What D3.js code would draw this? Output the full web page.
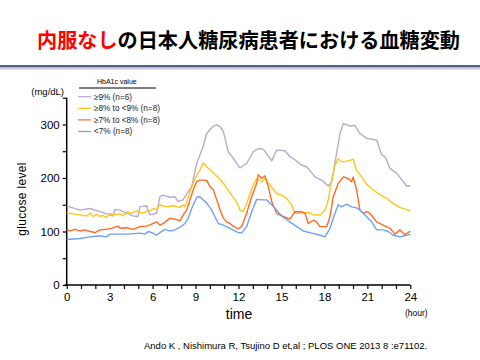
<!DOCTYPE html>
<html><head><meta charset="utf-8">
<script src="https://cdn.jsdelivr.net/npm/d3@7/dist/d3.min.js"></script>
<style>
html,body{margin:0;padding:0;background:#fff;}
svg{display:block;font-family:"Liberation Sans",Arial,sans-serif;}
</style></head>
<body>
<svg id="chart" width="480" height="360"></svg>
<script>
// ---- data (hour, mg/dL) ----
const seriesNames = ["≥9% (n=6)", "≥8% to <9% (n=8)", "≥7% to <8% (n=8)", "<7% (n=8)"];
const seriesColors = ["#b9abcb", "#ffc61a", "#ff6b22", "#72a0f2"];

const hba1cOver9 = [[0,148],[0.93,140],[1.63,143],[2.33,137],[3.02,131],[3.23,129],[3.37,141],[3.72,140],[4.19,134],[4.63,129],[4.98,128],[5.12,146],[5.59,148],[5.68,139],[5.82,131],[6.28,134],[6.51,165],[6.72,168],[7.21,164],[7.56,165],[7.77,156],[8.12,159],[8.47,174],[8.73,184],[9.08,227],[9.52,258],[9.78,283],[10.24,297],[10.47,299],[10.71,296],[10.94,287],[11.28,249],[11.63,237],[12.1,219],[12.57,227],[13.03,249],[13.38,255],[13.73,254],[14.32,232],[14.66,252],[15.24,251],[15.59,240],[15.94,234],[16.41,224],[16.76,221],[17.34,202],[17.81,196],[18.27,185],[18.51,193],[18.85,246],[19.09,283],[19.32,302],[19.78,297],[20.13,298],[20.48,283],[20.95,274],[21.65,271],[22.0,243],[22.23,240],[22.58,218],[23.04,209],[23.51,193],[23.74,185],[24,185]];

const hba1c8to9 = [[0,135],[0.46,133],[0.93,131],[1.4,129],[1.63,134],[1.86,128],[2.09,132],[2.33,128],[2.53,130],[2.79,126],[3.02,134],[3.25,131],[3.72,133],[3.95,129],[4.19,137],[4.54,134],[4.89,139],[5.24,134],[5.59,137],[5.82,139],[6.05,143],[6.28,141],[6.51,150],[6.98,146],[7.44,148],[7.91,145],[8.14,150],[8.26,146],[8.61,174],[8.96,199],[9.31,215],[9.54,228],[9.89,218],[10.47,204],[10.94,190],[11.4,172],[11.87,155],[12.1,140],[12.33,137],[12.57,152],[12.92,180],[13.27,199],[13.62,193],[13.85,199],[14.2,187],[14.66,171],[15.01,168],[15.36,162],[15.71,150],[15.94,134],[16.29,134],[16.64,135],[16.99,135],[17.22,131],[17.69,131],[18.04,140],[18.27,159],[18.51,196],[18.74,224],[18.97,236],[19.09,232],[19.32,230],[19.78,233],[20.01,235],[20.25,214],[20.6,202],[20.95,188],[21.41,178],[21.88,169],[22.35,162],[22.81,152],[23.28,145],[23.74,141],[24,138]];

const hba1c7to8 = [[0,104],[0.23,101],[0.58,104],[0.93,101],[1.28,103],[1.63,100],[1.98,98],[2.33,103],[2.67,104],[3.02,105],[3.37,108],[3.6,110],[3.72,106],[4.19,107],[4.65,104],[5.12,109],[5.59,110],[6.05,115],[6.28,118],[6.51,112],[6.86,117],[7.21,125],[7.56,123],[7.91,120],[8.14,131],[8.38,140],[8.61,159],[8.84,178],[9.08,193],[9.31,196],[9.54,196],[9.78,195],[10.01,184],[10.24,178],[10.47,160],[10.71,140],[10.94,125],[11.17,118],[11.4,115],[11.63,110],[11.98,105],[12.22,109],[12.57,134],[12.92,165],[13.27,190],[13.38,206],[13.62,199],[13.85,204],[14.08,184],[14.32,156],[14.66,134],[15.13,128],[15.59,123],[15.94,137],[16.41,137],[16.64,134],[16.87,115],[17.22,121],[17.46,118],[17.69,109],[18.16,109],[18.39,128],[18.62,165],[18.97,190],[19.32,202],[19.66,199],[19.9,193],[20.01,202],[20.25,178],[20.48,140],[20.71,134],[20.95,137],[21.18,134],[21.65,118],[22.11,112],[22.58,106],[22.93,95],[23.28,103],[23.63,94],[24,101]];

const hba1cUnder7 = [[0,85],[0.93,87],[1.63,90],[2.33,92],[2.79,90],[3.02,95],[4.19,95],[5.12,97],[5.47,95],[5.7,100],[5.94,98],[6.28,93],[6.51,98],[6.86,104],[7.21,101],[7.56,103],[7.91,108],[8.26,115],[8.49,125],[8.73,143],[9.08,164],[9.31,165],[9.54,159],[9.78,153],[10.13,140],[10.47,121],[10.59,115],[10.94,112],[11.4,106],[11.98,98],[12.22,97],[12.57,109],[12.92,137],[13.27,160],[13.62,159],[13.97,159],[14.32,150],[14.66,140],[15.01,129],[15.59,118],[16.06,109],[16.52,101],[17.11,97],[17.69,93],[18.04,90],[18.39,106],[18.74,134],[18.97,150],[19.2,146],[19.55,151],[19.9,146],[20.25,144],[20.48,140],[20.83,131],[21.3,118],[21.65,103],[22.11,103],[22.46,100],[22.81,93],[23.28,90],[23.74,93],[24,95]];

const xTickLabels = [0, 3, 6, 9, 12, 15, 18, 21, 24];
const yTickLabels = [0, 100, 200, 300];

const allSeries = [hba1cOver9, hba1c8to9, hba1c7to8, hba1cUnder7];

// ---- drawing ----
const svg = d3.select("#chart");

// Title
const title = svg.append("text").attr("x", 37).attr("y", 48)
  .attr("textLength", 423).attr("lengthAdjust", "spacingAndGlyphs")
  .style("font-family", '"Noto Sans CJK JP","Noto Sans CJK SC",sans-serif')
  .style("font-weight", "bold").style("font-size", "20.5px");
title.append("tspan").attr("fill", "#ff0000").text("内服なし");
title.append("tspan").attr("fill", "#000").text("の日本人糖尿病患者における血糖変動");

// Title rule
svg.append("rect").attr("x", 0).attr("y", 65).attr("width", 480).attr("height", 2.5).attr("fill", "#4d6283");
svg.append("rect").attr("x", 0).attr("y", 67.5).attr("width", 480).attr("height", 2).attr("fill", "#c6c8de");

const x = d3.scaleLinear().domain([0, 24]).range([66.7, 410.3]);
const y = d3.scaleLinear().domain([0, 350]).range([285, 97.7]);

// Axes
const xAxis = d3.axisBottom(x).tickValues(d3.range(0, 25, 1))
  .tickSize(4).tickFormat(d => xTickLabels.includes(d) ? d : "");
const gx = svg.append("g").attr("transform", "translate(0,285)").call(xAxis);
gx.select(".domain").attr("stroke", "#000").attr("stroke-width", 1.5).attr("d", `M${x(0)-2},0H${x(24)}`);
gx.selectAll(".tick line").attr("stroke", "#000").attr("stroke-width", 1.2);
gx.selectAll(".tick text").attr("y", 8).style("font-size", "11.5px").style("font-family", '"Liberation Sans",Arial,sans-serif').attr("fill", "#000");

const yAxis = d3.axisLeft(y).tickValues(d3.range(0, 351, 50)).tickSize(4)
  .tickFormat(d => yTickLabels.includes(d) ? d : "");
const gy = svg.append("g").attr("transform", `translate(${x(0)},0)`).call(yAxis);
gy.select(".domain").attr("stroke", "#000").attr("stroke-width", 1.5).attr("d", `M0,${y(0)}V${y(350)}`);
gy.selectAll(".tick line").attr("stroke", "#000").attr("stroke-width", 1.2);
gy.selectAll(".tick text").attr("x", -7).style("font-size", "11.5px").style("font-family", '"Liberation Sans",Arial,sans-serif').attr("fill", "#000");

// Lines
const line = d3.line().x(d => x(d[0])).y(d => y(d[1])).curve(d3.curveLinear);
svg.append("g").selectAll("path").data(allSeries).join("path")
  .attr("d", line).attr("fill", "none")
  .attr("stroke", (d, i) => seriesColors[i]).attr("stroke-width", 1.4)
  .attr("stroke-linejoin", "round");

// Axis labels
svg.append("text").attr("x", 64).attr("y", 95).attr("text-anchor", "end")
  .style("font-size", "9.5px").attr("fill", "#000").text("(mg/dL)");
svg.append("text").attr("transform", "translate(26,199) rotate(-90)").attr("text-anchor", "middle")
  .style("font-size", "12px").style("letter-spacing", "0.3px").attr("fill", "#000").text("glucose level");
svg.append("text").attr("x", 239).attr("y", 319).attr("text-anchor", "middle")
  .style("font-size", "14px").attr("fill", "#000").text("time");
svg.append("text").attr("x", 405).attr("y", 316)
  .style("font-size", "8.5px").attr("fill", "#000").text("(hour)");

// Legend
svg.append("text").attr("x", 97).attr("y", 84).style("font-size", "7px").attr("fill", "#000").text("HbA1c value");
svg.append("line").attr("x1", 79).attr("x2", 156).attr("y1", 88).attr("y2", 88).attr("stroke", "#000").attr("stroke-width", 1);
const lg = svg.append("g").selectAll("g").data(seriesNames).join("g")
  .attr("transform", (d, i) => `translate(0,${96.7 + i * 11.6})`);
lg.append("line").attr("x1", 78).attr("x2", 91).attr("stroke", (d, i) => seriesColors[i]).attr("stroke-width", 1.2);
lg.append("text").attr("x", 94).attr("y", 2.8).style("font-size", "8.2px").attr("fill", "#222").text(d => d);

// Citation
svg.append("text").attr("x", 144).attr("y", 349).style("font-size", "9.5px").attr("fill", "#000")
  .text("Ando K , Nishimura R, Tsujino D et,al ; PLOS ONE 2013 8 :e71102.");
</script>
</body></html>
